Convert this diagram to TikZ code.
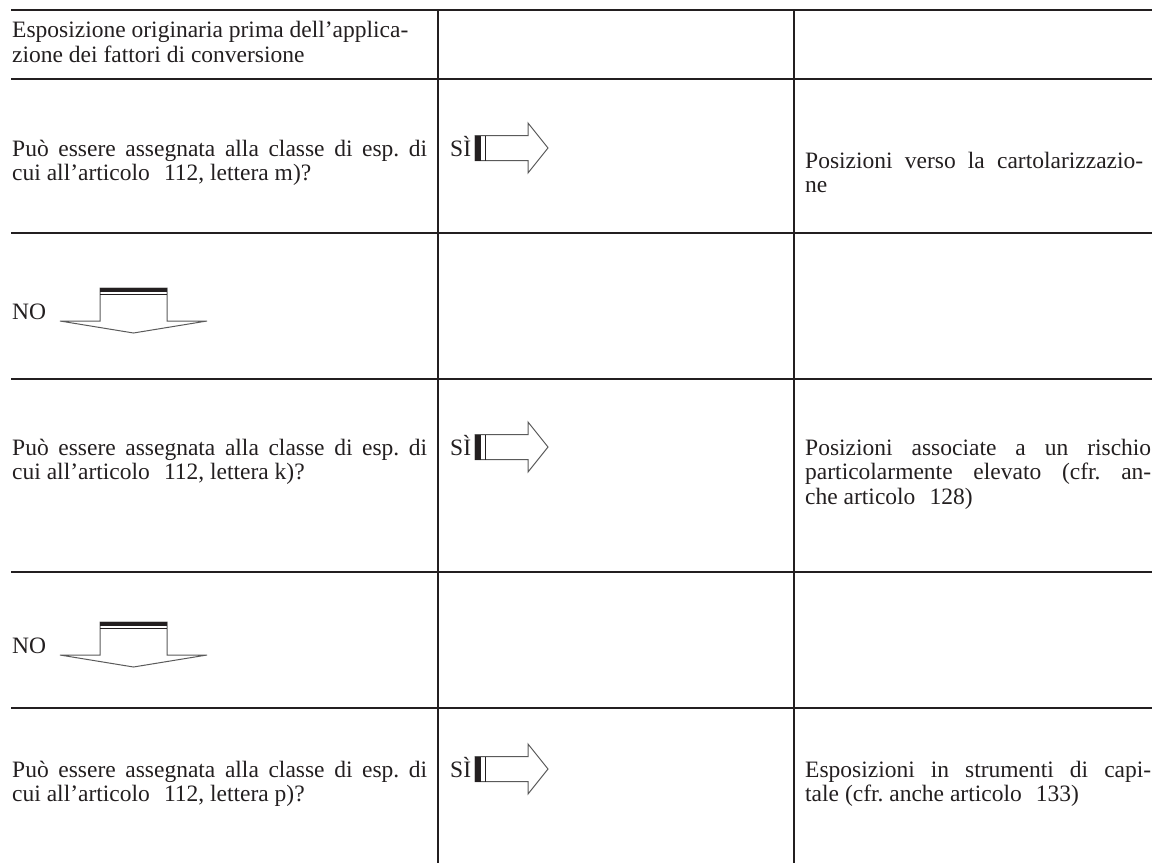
\documentclass[tikz,border=0pt]{standalone}
\usepackage{fontspec}
\setmainfont{Liberation Serif}
\newcommand\fs{\fontsize{23.5}{24.5}\selectfont\frenchspacing}
\newcommand\jl[2]{\hbox to #1{#2}}
\newcommand\wsp{\hspace{0.6em}}
\newcommand\twol[2]{\vtop{\hbox{#1}\hbox{#2}}}
\newcommand\threel[3]{\vtop{\hbox{#1}\hbox{#2}\hbox{#3}}}
\definecolor{ink}{HTML}{231F20}
\definecolor{arr}{HTML}{5A5A5A}
\tikzset{
  gridline/.style={line width=2pt, ink},
  txt/.style={anchor=base west, inner sep=0pt, font=\fs, text=ink},
  rarrow/.pic={
    \draw[arr, line width=1pt, fill=white] (0,-12.5) -- (53,-12.5) -- (53,-25) -- (73,0) -- (53,25) -- (53,12.5) -- (0,12.5) -- cycle;
    \fill[ink] (0,-12.5) rectangle (6,12.5);
    \draw[ink, line width=1pt] (10,-12.5) -- (10,12.5);
  },
  darrow/.pic={
    \draw[arr, line width=1pt, fill=white] (-33.5,0) -- (33.5,0) -- (33.5,33) -- (73.5,33) -- (0,45) -- (-73.5,33) -- (-33.5,33) -- cycle;
    \fill[ink] (-33.5,0) rectangle (33.5,4);
    \draw[ink, line width=1pt] (-33.5,6.5) -- (33.5,6.5);
  }
}
\begin{document}
\begin{tikzpicture}[x=1pt,y=-1pt]
\useasboundingbox (0,0) rectangle (1160,863);
% grid
\coordinate (h0l) at (11,10);   \coordinate (h0r) at (1152,10);
\coordinate (h1l) at (11,79);   \coordinate (h1r) at (1152,79);
\coordinate (h2l) at (11,233);  \coordinate (h2r) at (1152,233);
\coordinate (h3l) at (11,379);  \coordinate (h3r) at (1152,379);
\coordinate (h4l) at (11,572);  \coordinate (h4r) at (1152,572);
\coordinate (h5l) at (11,708);  \coordinate (h5r) at (1152,708);
\coordinate (v1t) at (438,10);  \coordinate (v1b) at (438,863);
\coordinate (v2t) at (794,10);  \coordinate (v2b) at (794,863);
\foreach \i in {0,...,5} \draw[gridline] (h\i l) -- (h\i r);
\draw[gridline] (v1t) -- (v1b);
\draw[gridline] (v2t) -- (v2b);
% header (base = first line)
\node[txt] (head) at (12,37.5) {\twol{Esposizione originaria prima dell’applica-}{zione dei fattori di conversione}};
% row m
\node[txt] (qm) at (12,156) {\twol{\jl{415pt}{Può essere assegnata alla classe di esp. di}}{cui all’articolo\wsp 112, lettera m)?}};
\node[txt] (sim) at (450,156) {SÌ};
\pic at (475,148) {rarrow};
\node[txt] (am) at (805,168) {\twol{\jl{338pt}{Posizioni verso la cartolarizzazio-}}{ne}};
% NO 1
\node[txt] (no1) at (12,319) {NO};
\pic at (133.5,288) {darrow};
% row k
\node[txt] (qk) at (12,455) {\twol{\jl{415pt}{Può essere assegnata alla classe di esp. di}}{cui all’articolo\wsp 112, lettera k)?}};
\node[txt] (sik) at (450,455) {SÌ};
\pic at (475,447) {rarrow};
\node[txt] (ak) at (805,455) {\threel{\jl{346pt}{Posizioni associate a un rischio}}{\jl{346pt}{particolarmente elevato (cfr. an-}}{che articolo\wsp 128)}};
% NO 2
\node[txt] (no2) at (12,653) {NO};
\pic at (133.5,622) {darrow};
% row p
\node[txt] (qp) at (12,777) {\twol{\jl{415pt}{Può essere assegnata alla classe di esp. di}}{cui all’articolo\wsp 112, lettera p)?}};
\node[txt] (sip) at (450,777) {SÌ};
\pic at (475,769) {rarrow};
\node[txt] (ap) at (805,777) {\twol{\jl{346pt}{Esposizioni in strumenti di capi-}}{tale (cfr. anche articolo\wsp 133)}};
\end{tikzpicture}
\end{document}
